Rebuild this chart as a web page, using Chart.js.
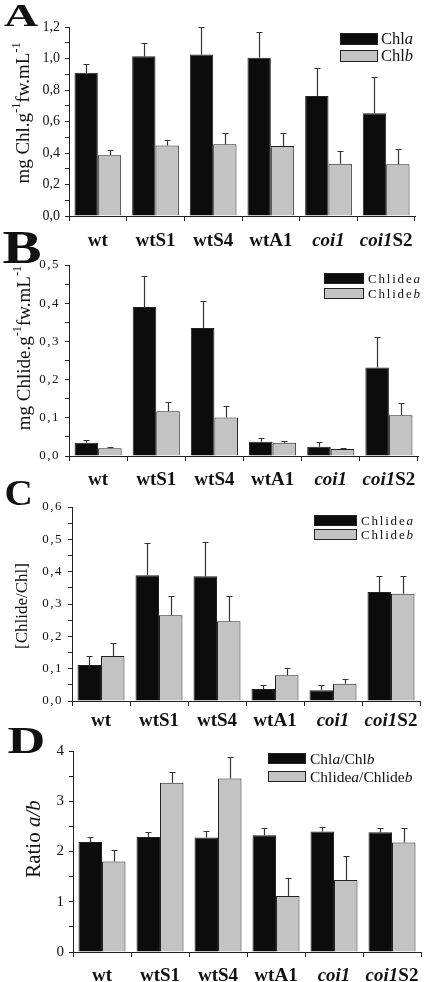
<!DOCTYPE html>
<html>
<head>
<meta charset="utf-8">
<script src="https://cdn.jsdelivr.net/npm/chart.js@4"></script>
<style>
  body { margin: 0; background: #fff; }
  #wrap { position: relative; width: 425px; height: 982px; }
  canvas { position: absolute; left: 0; }
</style>
</head>
<body>
<div id="wrap">
  <canvas id="chartA" width="425" height="252" style="top:0px"></canvas>
  <canvas id="chartB" width="425" height="262" style="top:230px"></canvas>
  <canvas id="chartC" width="425" height="255" style="top:478px"></canvas>
  <canvas id="chartD" width="425" height="264" style="top:718px"></canvas>
</div>
<script>
const strains = ['wt', 'wtS1', 'wtS4', 'wtA1', 'coi1', 'coi1S2'];

// A - chlorophyll content (mean, SD)
const chlA = [0.91, 1.015, 1.025, 1.005, 0.762, 0.653];
const chlASd = [0.055, 0.085, 0.175, 0.165, 0.18, 0.23];
const chlB = [0.385, 0.447, 0.456, 0.445, 0.331, 0.329];
const chlBSd = [0.032, 0.036, 0.07, 0.08, 0.08, 0.098];

// B - chlorophyllide content
const chlideA = [0.035, 0.39, 0.335, 0.037, 0.024, 0.232];
const chlideASd = [0.007, 0.082, 0.071, 0.011, 0.012, 0.08];
const chlideB = [0.02, 0.117, 0.101, 0.035, 0.018, 0.107];
const chlideBSd = [0.004, 0.024, 0.031, 0.004, 0.004, 0.031];

// C - Chlide/Chl
const fracA = [0.111, 0.389, 0.386, 0.037, 0.033, 0.337];
const fracASd = [0.028, 0.099, 0.106, 0.014, 0.018, 0.049];
const fracB = [0.139, 0.265, 0.247, 0.08, 0.053, 0.332];
const fracBSd = [0.039, 0.059, 0.078, 0.023, 0.015, 0.056];

// D - a/b ratios
const ratioChl = [2.19, 2.29, 2.28, 2.325, 2.4, 2.385];
const ratioChlSd = [0.1, 0.09, 0.13, 0.145, 0.085, 0.085];
const ratioChlide = [1.8, 3.37, 3.455, 1.116, 1.435, 2.18];
const ratioChlideSd = [0.23, 0.22, 0.425, 0.364, 0.485, 0.29];

const SERIF = '"Liberation Serif", "DejaVu Serif", serif';
const BLACK = '#0c0c0c', GREY = '#c3c3c3', LINE = '#222';

// rich text: parts are [text, flags], flags: i italic, b bold, s superscript
function setFont(ctx, size, f) {
  const sz = f.includes('s') ? size * 0.65 : size;
  ctx.font = (f.includes('i') ? 'italic ' : '') + (f.includes('b') ? 'bold ' : '') + sz + 'px ' + SERIF;
}
function richWidth(ctx, parts, size) {
  let w = 0;
  for (const [t, f = ''] of parts) { setFont(ctx, size, f); w += ctx.measureText(t).width; }
  return w;
}
function drawRich(ctx, parts, x, y, size, center) {
  let cx = center ? x - richWidth(ctx, parts, size) / 2 : x;
  for (const [t, f = ''] of parts) {
    setFont(ctx, size, f);
    ctx.fillText(t, cx, f.includes('s') ? y - size * 0.38 : y);
    cx += ctx.measureText(t).width;
  }
}
function strainParts(s) {
  return s.startsWith('coi1') ? [['coi1', 'bi'], [s.slice(4), 'b']] : [[s, 'b']];
}

function panel(id, p) {
  const canvas = document.getElementById(id);
  const H = canvas.height, top = p.canvasTop;
  const [pl, pt, pr, pb] = p.plot;

  const deco = {
    id: 'deco',
    beforeDraw(chart) { chart.ctx.letterSpacing = p.tickSpacing || '0px'; },
    beforeDatasetsDraw(chart) { chart.ctx.letterSpacing = '0px'; },
    afterDatasetsDraw(chart) {
      const ctx = chart.ctx, y = chart.scales.y;
      ctx.save();
      ctx.strokeStyle = '#333';
      ctx.lineWidth = 1.2;
      p.series.forEach((s, i) => {
        chart.getDatasetMeta(i).data.forEach((bar, j) => {
          const x = Math.round(bar.x) + 0.5;
          const yt = Math.round(y.getPixelForValue(s.data[j] + s.sd[j])) + 0.5;
          ctx.beginPath();
          ctx.moveTo(x, bar.y); ctx.lineTo(x, yt);
          ctx.moveTo(x - 3, yt); ctx.lineTo(x + 3, yt);
          ctx.stroke();
        });
      });
      ctx.restore();
    },
    afterDraw(chart) {
      const ctx = chart.ctx;
      ctx.save();
      ctx.fillStyle = '#111';
      ctx.letterSpacing = '0px';

      // panel letter, fitted to its box
      const L = p.letter;
      ctx.font = 'bold 100px ' + SERIF;
      const m = ctx.measureText(L.t);
      const sx = L.w / (m.actualBoundingBoxLeft + m.actualBoundingBoxRight);
      const sy = L.h / m.actualBoundingBoxAscent;
      ctx.save();
      ctx.translate(L.x + sx * m.actualBoundingBoxLeft, L.y + L.h - top);
      ctx.scale(sx, sy);
      ctx.textBaseline = 'alphabetic';
      ctx.fillText(L.t, 0, 0);
      ctx.restore();

      // y title
      ctx.save();
      ctx.translate(p.title.x, p.title.y - top);
      ctx.rotate(-Math.PI / 2);
      ctx.textBaseline = 'middle';
      drawRich(ctx, p.title.parts, 0, 0, p.title.size, true);
      ctx.restore();

      // category labels
      ctx.textBaseline = 'alphabetic';
      const xs = chart.scales.x;
      strains.forEach((s, i) => {
        drawRich(ctx, strainParts(s), xs.getPixelForTick(i), p.labelBase - top, 19, true);
      });

      // legend
      const lg = p.legend;
      p.series.forEach((s, i) => {
        const by = lg.ys[i] - top;
        ctx.fillStyle = i ? GREY : BLACK;
        ctx.fillRect(lg.x, by, lg.w, lg.h);
        ctx.strokeStyle = LINE;
        ctx.lineWidth = 1;
        ctx.strokeRect(lg.x + 0.5, by + 0.5, lg.w - 1, lg.h - 1);
        ctx.fillStyle = '#111';
        ctx.textBaseline = 'middle';
        ctx.letterSpacing = lg.spacing || '0px';
        drawRich(ctx, s.legend, lg.tx, by + lg.h / 2 + 1, lg.size, false);
        ctx.letterSpacing = '0px';
      });
      ctx.restore();
    }
  };

  new Chart(canvas, {
    type: 'bar',
    data: {
      labels: strains,
      datasets: p.series.map((s, i) => ({
        label: s.label,
        data: s.data,
        backgroundColor: i ? GREY : BLACK,
        borderColor: LINE,
        borderWidth: 1,
        categoryPercentage: 0.81,
        barPercentage: 1
      }))
    },
    options: {
      responsive: false,
      animation: false,
      layout: { padding: { top: pt - top, right: 425 - pr, left: 0, bottom: 0 } },
      plugins: { legend: { display: false }, tooltip: { enabled: false } },
      scales: {
        x: {
          grid: { offset: true, drawOnChartArea: false, tickLength: 5, color: LINE },
          border: { color: LINE, width: 1 },
          ticks: { display: false },
          afterFit(s) { s.height = H - (pb - top); }
        },
        y: {
          min: 0,
          max: p.max,
          grid: { drawOnChartArea: false, tickLength: 4, color: LINE },
          border: { color: LINE, width: 1 },
          ticks: {
            stepSize: p.minor,
            autoSkip: false,
            maxTicksLimit: 40,
            padding: 5,
            color: '#111',
            font: { family: SERIF, size: p.tickSize },
            callback: v => Math.round(v / p.minor) % 2 === 0 ? v.toFixed(p.dec).replace('.', ',') : ''
          },
          afterFit(s) { s.width = pl; }
        }
      }
    },
    plugins: [deco]
  });
}

panel('chartA', {
  canvasTop: 0, plot: [69, 27, 415, 216], max: 1.2, minor: 0.1, dec: 1, tickSize: 14,
  series: [
    { label: 'Chla', data: chlA, sd: chlASd, legend: [['Chl'], ['a', 'i']] },
    { label: 'Chlb', data: chlB, sd: chlBSd, legend: [['Chl'], ['b', 'i']] }
  ],
  letter: { t: 'A', x: 4, y: 5, w: 34, h: 21 },
  title: { parts: [['mg Chl.g'], ['-1', 's'], ['fw.mL'], ['-1', 's']], x: 24, y: 113, size: 19 },
  labelBase: 246,
  legend: { x: 340, w: 38, h: 12, ys: [33, 50], tx: 381, size: 16.5 }
});

panel('chartB', {
  canvasTop: 230, plot: [69, 265, 418, 456], max: 0.5, minor: 0.05, dec: 1, tickSize: 13, tickSpacing: '1.5px',
  series: [
    { label: 'Chlidea', data: chlideA, sd: chlideASd, legend: [['Chlide'], ['a', 'i']] },
    { label: 'Chlideb', data: chlideB, sd: chlideBSd, legend: [['Chlide'], ['b', 'i']] }
  ],
  letter: { t: 'B', x: 3, y: 233, w: 37, h: 30 },
  title: { parts: [['mg Chlide.g'], ['-1', 's'], ['fw.mL'], ['-1', 's']], x: 25, y: 348, size: 19 },
  labelBase: 485,
  legend: { x: 324, w: 40, h: 11, ys: [273, 288], tx: 368, size: 13, spacing: '1.8px' }
});

panel('chartC', {
  canvasTop: 478, plot: [72, 507, 420, 701], max: 0.6, minor: 0.05, dec: 1, tickSize: 13, tickSpacing: '1.5px',
  series: [
    { label: 'Chlidea', data: fracA, sd: fracASd, legend: [['Chlide'], ['a', 'i']] },
    { label: 'Chlideb', data: fracB, sd: fracBSd, legend: [['Chlide'], ['b', 'i']] }
  ],
  letter: { t: 'C', x: 6, y: 482, w: 24, h: 23 },
  title: { parts: [['[Chlide/Chl]']], x: 23, y: 606, size: 17 },
  labelBase: 726,
  legend: { x: 314, w: 43, h: 11, ys: [515, 529], tx: 361, size: 13, spacing: '1.8px' }
});

panel('chartD', {
  canvasTop: 718, plot: [73, 751, 421, 952], max: 4, minor: 0.5, dec: 0, tickSize: 15,
  series: [
    { label: 'Chla/Chlb', data: ratioChl, sd: ratioChlSd, legend: [['Chl'], ['a', 'i'], ['/Chl'], ['b', 'i']] },
    { label: 'Chlidea/Chlideb', data: ratioChlide, sd: ratioChlideSd, legend: [['Chlide'], ['a', 'i'], ['/Chlide'], ['b', 'i']] }
  ],
  letter: { t: 'D', x: 8, y: 728, w: 35, h: 25 },
  title: { parts: [['Ratio '], ['a/b', 'i']], x: 34, y: 839, size: 21 },
  labelBase: 981,
  legend: { x: 268, w: 38, h: 11, ys: [753, 771], tx: 310, size: 15.5 }
});
</script>
</body>
</html>
